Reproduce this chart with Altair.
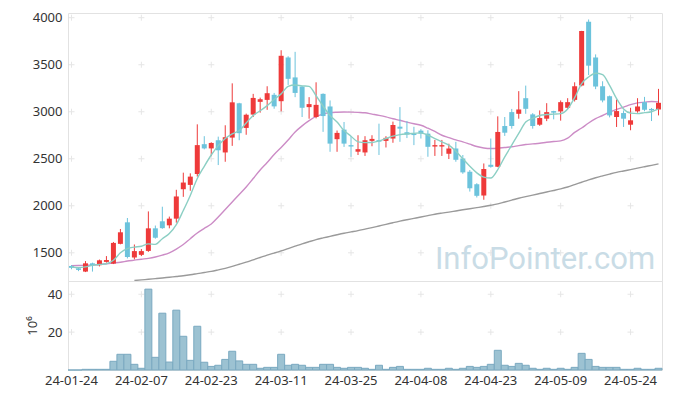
import altair as alt
import pandas as pd

dates = [
    "24-01-24", "24-01-25", "24-01-26", "24-01-29", "24-01-30", "24-01-31",
    "24-02-01", "24-02-02", "24-02-05", "24-02-06", "24-02-07", "24-02-08",
    "24-02-13", "24-02-14", "24-02-15", "24-02-16", "24-02-19", "24-02-20",
    "24-02-21", "24-02-22", "24-02-23", "24-02-26", "24-02-27", "24-02-28",
    "24-02-29", "24-03-04", "24-03-05", "24-03-06", "24-03-07", "24-03-08",
    "24-03-11", "24-03-12", "24-03-13", "24-03-14", "24-03-15", "24-03-18",
    "24-03-19", "24-03-20", "24-03-21", "24-03-22", "24-03-25", "24-03-26",
    "24-03-27", "24-03-28", "24-03-29", "24-04-01", "24-04-02", "24-04-03",
    "24-04-04", "24-04-05", "24-04-08", "24-04-09", "24-04-11", "24-04-12",
    "24-04-15", "24-04-16", "24-04-17", "24-04-18", "24-04-19", "24-04-22",
    "24-04-23", "24-04-24", "24-04-25", "24-04-26", "24-04-29", "24-04-30",
    "24-05-02", "24-05-03", "24-05-07", "24-05-08", "24-05-09", "24-05-10",
    "24-05-13", "24-05-14", "24-05-16", "24-05-17", "24-05-20", "24-05-21",
    "24-05-22", "24-05-23", "24-05-24", "24-05-27", "24-05-28", "24-05-29",
    "24-05-30",
]

opens = [
    1360, 1335, 1300, 1388, 1368, 1403, 1385, 1595, 1824, 1450,
    1478, 1520, 1760, 1835, 1792, 1863, 2176, 2222, 2338, 2655,
    2610, 2697, 2567, 2725, 3090, 2828, 2970, 3105, 3126, 3180,
    3112, 3577, 3365, 3268, 3049, 2944, 3190, 3056, 2708, 2810,
    2645, 2575, 2567, 2690, 2698, 2690, 2715, 2841, 2782, 2768,
    2799, 2767, 2630, 2630, 2553, 2609, 2503, 2362, 2229, 2109,
    2436, 2415, 2848, 2996, 2978, 3144, 2972, 2862, 2926, 3007,
    3004, 3042, 3126, 3278, 3957, 3577, 3271, 3165, 2944, 2986,
    2862, 3004, 3102, 3030, 3024,
]
highs = [
    1370, 1345, 1412, 1395, 1428, 1465, 1615, 1753, 1870, 1588,
    1540, 1940, 1790, 1990, 1885, 2170, 2352, 2345, 2866, 2740,
    2675, 2735, 2856, 3302, 3095, 2980, 3190, 3150, 3271, 3200,
    3654, 3590, 3637, 3275, 3155, 3313, 3195, 3120, 2800, 2891,
    2740, 2750, 2740, 2750, 2873, 2740, 2895, 3049, 2900, 2840,
    2815, 2803, 2700, 2700, 2660, 2680, 2540, 2380, 2240, 2450,
    2715, 2951, 2944, 3030, 3219, 3278, 2985, 3014, 3091, 3010,
    3120, 3144, 3313, 3860, 3981, 3610, 3324, 3172, 3130, 3014,
    3042, 3144, 3158, 3040, 3243,
]
lows = [
    1325, 1305, 1295, 1300, 1355, 1395, 1380, 1590, 1440, 1430,
    1465, 1510, 1650, 1755, 1760, 1820, 2095, 2160, 2310, 2600,
    2528, 2433, 2468, 2637, 2697, 2755, 2944, 2990, 3020, 3032,
    3004, 3285, 3155, 2944, 2926, 2930, 2786, 2574, 2574, 2626,
    2521, 2540, 2530, 2633, 2540, 2620, 2670, 2680, 2720, 2645,
    2715, 2521, 2530, 2530, 2497, 2468, 2340, 2151, 2088, 2064,
    2405, 2410, 2743, 2820, 2926, 2978, 2820, 2850, 2900, 2919,
    2905, 3030, 3109, 3270, 3390, 3240, 3100, 2940, 2838, 2838,
    2803, 2990, 3005, 2901, 2961,
]
closes = [
    1340, 1318, 1388, 1370, 1420, 1423, 1605, 1718, 1455, 1518,
    1518, 1760, 1660, 1762, 1863, 2099, 2247, 2310, 2645, 2610,
    2668, 2590, 2729, 3100, 2772, 2968, 3147, 3133, 3197, 3057,
    3595, 3350, 3200, 3042, 3081, 3073, 2954, 2661, 2775, 2661,
    2630, 2602, 2697, 2711, 2682, 2722, 2859, 2820, 2757, 2752,
    2767, 2627, 2645, 2645, 2609, 2489, 2355, 2186, 2106, 2391,
    2414, 2785, 2777, 2848, 3024, 3031, 2848, 2933, 2996, 2990,
    3102, 3102, 3271, 3859, 3490, 3268, 3120, 2961, 3007, 2926,
    2909, 3056, 3021, 3015, 3095,
]
volumes = [
    0.0, 0.0, 0.35, 0.35, 0.35, 0.35, 4.6, 8.3, 8.3, 3.0,
    0.9, 42.7, 6.7, 30.0, 4.2, 31.6, 17.8, 5.1, 23.1, 4.1,
    1.9, 2.5, 5.6, 9.9, 4.8, 3.0, 3.0, 0.9, 1.4, 1.4,
    8.3, 2.5, 3.0, 2.5, 1.4, 1.4, 3.0, 3.0, 1.4, 0.9,
    1.4, 1.4, 0.9, 0.35, 2.5, 0.35, 1.4, 1.9, 0.35, 0.35,
    0.35, 0.9, 0.35, 0.35, 0.9, 0.35, 0.9, 1.9, 1.4, 1.9,
    3.0, 10.4, 2.5, 1.9, 3.5, 2.5, 0.9, 0.35, 0.9, 0.35,
    0.9, 0.35, 1.4, 8.8, 5.6, 1.9, 1.4, 1.4, 1.4, 0.35,
    0.35, 0.9, 0.35, 0.35, 0.9,
]
ma5 = [
    1352, 1342, 1350, 1366, 1375, 1384, 1420, 1500, 1545, 1560,
    1570, 1595, 1590, 1650, 1705, 1800, 1950, 2110, 2290, 2420,
    2540, 2640, 2715, 2765, 2800, 2880, 2960, 3010, 3065, 3130,
    3190, 3270, 3285, 3275, 3270, 3170, 3060, 2960, 2890, 2800,
    2740, 2680, 2672, 2673, 2690, 2715, 2740, 2757, 2765, 2770,
    2775, 2750, 2715, 2680, 2645, 2580, 2500, 2420, 2350, 2305,
    2295, 2385, 2520, 2645, 2770, 2890, 2930, 2960, 2970, 2975,
    2980, 3030, 3150, 3300, 3370, 3410, 3395, 3280, 3140, 3030,
    2985, 2980, 2990, 3000, 3030,
]
ma20 = [
    1363, 1365, 1367, 1370, 1375, 1384, 1392, 1400, 1412, 1422,
    1432, 1441, 1455, 1475, 1500, 1540, 1588, 1650, 1711, 1760,
    1806, 1880, 1960, 2040, 2120, 2200, 2290, 2380, 2460, 2545,
    2620, 2700, 2785, 2850, 2905, 2950, 2975, 2990, 2995, 2997,
    2996, 2993, 2989, 2975, 2961, 2945, 2925, 2909, 2890, 2872,
    2856, 2825, 2790, 2750, 2725, 2700, 2680, 2655, 2630, 2615,
    2609, 2612, 2620, 2627, 2640, 2651, 2658, 2665, 2675, 2683,
    2690, 2720, 2780, 2827, 2880, 2926, 2960, 2996, 3025, 3049,
    3075, 3094, 3102, 3109, 3105,
]
ma120 = [
    None, None, None, None, None, None, None, None, None, 1205,
    1212, 1218, 1225, 1232, 1240, 1248, 1256, 1266, 1278, 1290,
    1302, 1318, 1335, 1355, 1378, 1400, 1425, 1450, 1475, 1497,
    1520, 1545, 1570, 1595, 1618, 1640, 1658, 1675, 1692, 1708,
    1722, 1736, 1752, 1768, 1785, 1802, 1820, 1837, 1852, 1866,
    1880, 1895, 1910, 1922, 1933, 1945, 1957, 1968, 1980, 1992,
    2005, 2020, 2040, 2060, 2080, 2097, 2113, 2130, 2147, 2163,
    2180, 2200, 2225, 2250, 2275, 2298, 2318, 2337, 2355, 2370,
    2385, 2400, 2415, 2430, 2445,
]

x_ticks = ["24-01-24", "24-02-07", "24-02-23", "24-03-11", "24-03-25",
           "24-04-08", "24-04-23", "24-05-09", "24-05-24"]
price_ticks = [1500, 2000, 2500, 3000, 3500, 4000]
vol_ticks = [20, 40]

RED = "#ee3a3a"
BLUE = "#6cc3dc"
FONT = "Noto Sans"

df = pd.DataFrame({
    "date": dates, "open": opens, "high": highs, "low": lows,
    "close": closes, "volume": volumes,
})
df["dir"] = ["up" if c >= o else "down" for o, c in zip(opens, closes)]

ma_df = pd.DataFrame({"date": dates, "ma5": ma5, "ma20": ma20, "ma120": ma120})

cross_price = pd.DataFrame([(d, v) for d in x_ticks for v in price_ticks],
                           columns=["date", "v"])
cross_vol = pd.DataFrame([(d, v) for d in x_ticks for v in vol_ticks],
                         columns=["date", "v"])

W = 594
xscale = alt.Scale(domain=dates, paddingInner=0, paddingOuter=0)
x_top = alt.X("date:O", scale=xscale, axis=None)
yscale = alt.Scale(domain=[1200, 4050], zero=False, nice=False)
color = alt.Color("dir:N", scale=alt.Scale(domain=["up", "down"], range=[RED, BLUE]), legend=None)

cross_shape = "M-1,0L1,0M0,-1L0,1"

crosses_top = alt.Chart(cross_price).mark_point(
    shape=cross_shape, filled=False, size=36, stroke="#dcdcdc", strokeWidth=1
).encode(x=x_top, y=alt.Y("v:Q", scale=yscale))

base = alt.Chart(df)
wicks = base.mark_rule(strokeWidth=1).encode(
    x=x_top,
    y=alt.Y("low:Q", scale=yscale, axis=alt.Axis(
        values=price_ticks, format="d", title=None, grid=False, ticks=False, domain=False,
        labelPadding=6, labelFont=FONT, labelFontSize=13, labelColor="#333")),
    y2="high:Q",
    color=color,
)
bodies = base.mark_bar(size=5).encode(x=x_top, y="open:Q", y2="close:Q", color=color)

def ma_line(field, col, width=1.4):
    return alt.Chart(ma_df).mark_line(color=col, strokeWidth=width, clip=True,
                                      interpolate="monotone").encode(
        x=x_top, y=alt.Y(f"{field}:Q", scale=yscale))

watermark = alt.Chart(pd.DataFrame({"t": ["InfoPointer.com"]})).mark_text(
    font="Roboto", fontSize=31, color="#c9dce6", align="center",
    baseline="alphabetic"
).encode(text="t:N", x=alt.value(477), y=alt.value(256))

top = alt.layer(
    crosses_top, watermark, ma_line("ma120", "#9a9a9a"), ma_line("ma20", "#cc8cc6"),
    wicks, bodies, ma_line("ma5", "#8ccfc4"),
).properties(width=W, height=268)

vscale = alt.Scale(domain=[0, 47], nice=False)
x_bot = alt.X("date:O", scale=xscale, axis=alt.Axis(
    values=x_ticks, title=None, labelAngle=0, ticks=False, domain=False,
    grid=False, labelPadding=4, labelFont=FONT, labelFontSize=13, labelColor="#333"))

crosses_vol = alt.Chart(cross_vol).mark_point(
    shape=cross_shape, filled=False, size=36, stroke="#dcdcdc", strokeWidth=1
).encode(x=x_bot, y=alt.Y("v:Q", scale=vscale))

vol_bars = alt.Chart(df).mark_bar(
    fill="#9cc2d2", stroke="#7aa9c0", strokeWidth=1
).encode(
    x=x_bot,
    y=alt.Y("volume:Q", scale=vscale, axis=alt.Axis(
        values=vol_ticks, title="10⁶", grid=False, ticks=False, domain=False,
        labelPadding=6, labelFont=FONT, labelFontSize=13, labelColor="#333",
        titleFont=FONT, titleFontSize=13, titleFontWeight="normal", titleColor="#333",
        titlePadding=8)),
)

bottom = alt.layer(crosses_vol, vol_bars).properties(width=W, height=89)

chart = alt.vconcat(top, bottom, spacing=0, bounds="flush").configure_view(
    stroke="#e2e2e2"
).properties(
    background="white",
    padding={"left": 17, "top": 3, "right": 0, "bottom": 0},
)

chart.save("out.html", embed_options={"renderer": "svg", "actions": False})
